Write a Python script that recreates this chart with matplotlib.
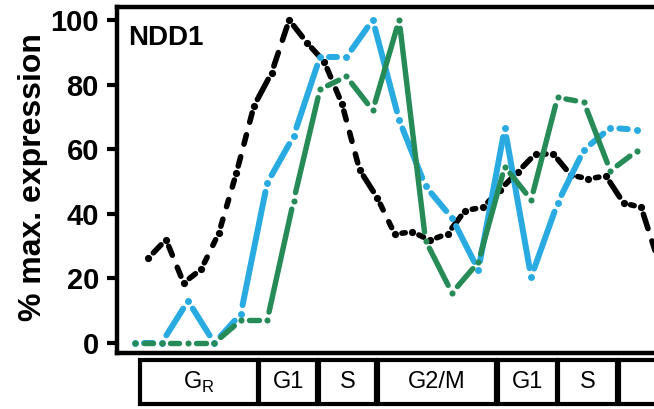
import numpy as np
import matplotlib
matplotlib.use("Agg")
import matplotlib.pyplot as plt
from matplotlib.collections import LineCollection
from matplotlib.patches import Rectangle
from matplotlib.transforms import blended_transform_factory

plt.rcParams['font.family'] = ['Liberation Sans', 'DejaVu Sans']

# Sampling times (minutes after release)
time_10min = 7.5 + np.arange(0, 300, 10)   # 30 samples
time_15min = np.arange(0, 300, 15)         # 20 samples

# NDD1 expression, % of maximum
ndd1_black = [26.3, 32, 18.6, 22.8, 34, 52.6, 73.4, 83.6, 100, 93,
              87, 74, 53.6, 45, 33.7, 34.4, 31.8, 33.8, 41, 42,
              47.5, 53, 58.6, 58.6, 52, 50.8, 51.7, 43.3, 42, 25]
ndd1_blue = [0, 0, 13, 0, 9, 49.5, 64, 88.5, 88.5, 100,
             69, 48.5, 38.7, 22.6, 66.5, 20.4, 43.3, 59.8, 66.6, 66]
ndd1_green = [0, 0, 0, 0, 7, 7, 44, 78.5, 82.5, 72,
              100, 31.7, 15.5, 25, 54.6, 44.3, 76, 74.5, 53.3, 59.4]

# Cell-cycle phases (boundaries in minutes)
phase_names = [r'G$_\mathregular{R}$', 'G1', 'S', 'G2/M', 'G1', 'S', '']
phase_edges = [2.5, 70, 104, 137.5, 205.5, 240, 274.5, 340]

y_ticks = [0, 20, 40, 60, 80, 100]

BLACK = '#000000'
BLUE = '#29ABE2'
GREEN = '#268B57'

W, H = 654, 409
fig = plt.figure(figsize=(W / 100, H / 100), dpi=100)
ax = fig.add_axes([117 / W, 56 / H, 0.862, 346 / H])
ax.set_xlim(-10.34, 310)
ax.set_ylim(-3.1, 104)


def draw_series(ax, x, y, color, lw, ms, gap_px, z, dash=None, space=None):
    """Points joined by segments that stop short of each point.

    If dash/space (pixels) are given, each segment is further broken
    into short dashes."""
    pts = ax.transData.transform(np.column_stack([x, y]))
    inv = ax.transData.inverted()
    segs = []
    for p0, p1 in zip(pts[:-1], pts[1:]):
        d = p1 - p0
        length = np.hypot(*d)
        if length <= 2 * gap_px:
            continue
        u = d / length
        a = p0 + u * gap_px
        s = length - 2 * gap_px
        if dash is None:
            pieces = [(0.0, s)]
        else:
            n = max(1, int(round((s + space) / (dash + space))))
            dl = max((s - (n - 1) * space) / n, 0.5)
            pieces = [(i * (dl + space), i * (dl + space) + dl) for i in range(n)]
        for s0, s1 in pieces:
            segs.append(inv.transform(np.array([a + u * s0, a + u * s1])))
    lc = LineCollection(segs, colors=color, linewidths=lw,
                        capstyle='round', zorder=z)
    ax.add_collection(lc)
    ax.plot(x, y, 'o', color=color, ms=ms, mew=0, zorder=z)


draw_series(ax, time_10min, ndd1_black, BLACK, 4.0, 5.2, 7.2, 2,
            dash=11, space=13)
draw_series(ax, time_15min, ndd1_blue, BLUE, 4.3, 5.0, 9.0, 3)
draw_series(ax, time_15min, ndd1_green, GREEN, 3.9, 4.4, 8.5, 4)

for side in ('left', 'top', 'bottom'):
    ax.spines[side].set_linewidth(3.2)
ax.spines['right'].set_visible(False)

ax.set_xticks([])
ax.set_yticks(y_ticks)
ax.tick_params(axis='y', direction='out', length=7, width=3, pad=6,
               labelsize=21)
for lab in ax.get_yticklabels():
    lab.set_fontweight('bold')

fig.text(33 / W, 1 - 177 / H, '% max. expression', rotation=90,
         ha='center', va='center', fontsize=23, fontweight='bold')
ax.text(128 / 100, (353 - 45) / 346, 'NDD1',
        transform=blended_transform_factory(fig.dpi_scale_trans, ax.transAxes),
        fontsize=20, fontweight='bold', ha='left', va='baseline')

# Phase boxes under the time axis
pax = fig.add_axes([117 / W, 1 / H, 0.862, 52 / H])
pax.set_xlim(ax.get_xlim())
pax.set_ylim(0, 1)
pax.axis('off')
inset = 0.5
for name, x0, x1 in zip(phase_names, phase_edges[:-1], phase_edges[1:]):
    pax.add_patch(Rectangle((x0 + inset, 0.077), x1 - x0 - 2 * inset, 0.846,
                            facecolor='white', edgecolor='black', lw=3.0))
    pax.text((x0 + x1) / 2, 0.5, name, ha='center', va='center', fontsize=17)

fig.savefig('out.png', dpi=100)
